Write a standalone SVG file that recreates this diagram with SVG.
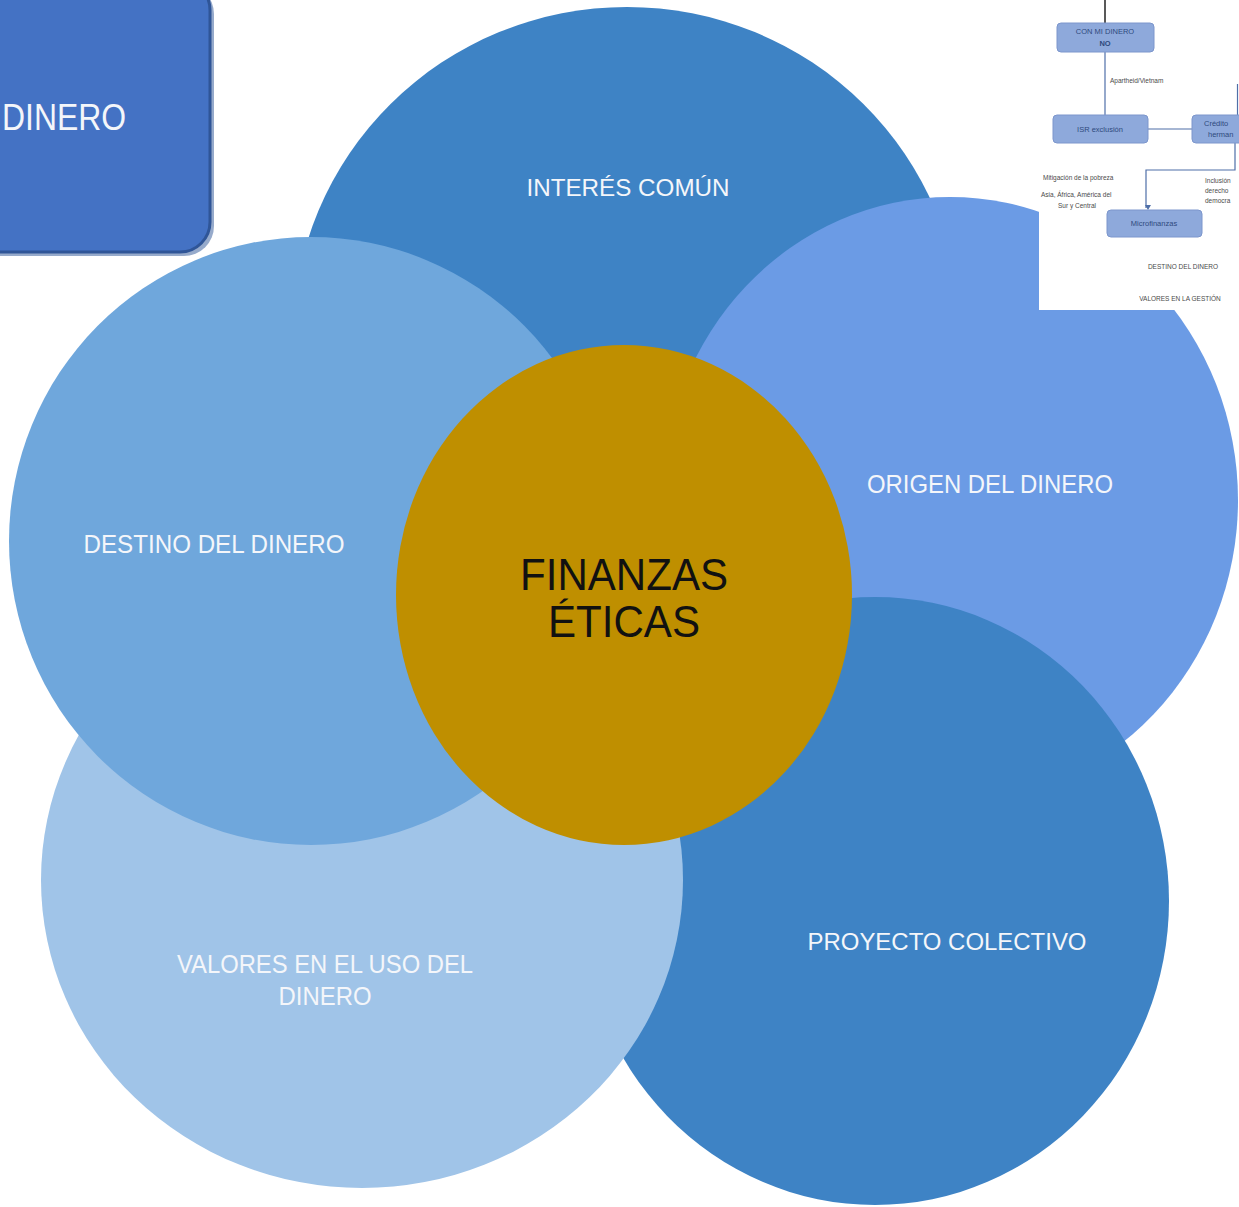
<svg xmlns="http://www.w3.org/2000/svg" width="1239" height="1207" viewBox="0 0 1239 1207">
  <style>
    .lbl { font-family: "Liberation Sans", Arial, sans-serif; fill: #F4F6FA; text-anchor: middle; }
    .big { font-family: "Liberation Sans", Arial, sans-serif; fill: #111111; text-anchor: middle; }
    .ins { font-family: "Liberation Sans", Arial, sans-serif; font-size: 6.5px; fill: #4A4A4A; }
    .insb { font-family: "Liberation Sans", Arial, sans-serif; font-size: 7.5px; fill: #2E4A7D; text-anchor: middle; }
    .box { fill: #8EA9DB; stroke: #7C96CC; stroke-width: 1; }
    .ln { fill: none; stroke: #4F6FA8; stroke-width: 1.2; }
  </style>
  <defs>
    <marker id="ah" markerWidth="6" markerHeight="6" refX="3" refY="5" orient="auto" markerUnits="userSpaceOnUse">
      <path d="M0,0 L3,5 L6,0 Z" fill="#4F6FA8" transform="rotate(-90 3 3)"/>
    </marker>
  </defs>
  <rect x="0" y="0" width="1239" height="1207" fill="#FFFFFF"/>

  <g id="box-dinero">
    <rect x="-36" y="-16" width="250" height="272" rx="30" fill="#2E5597" opacity="0.5"/>
    <rect x="-40" y="-20" width="250" height="272" rx="30" fill="#4472C4" stroke="#2F5597" stroke-width="3"/>
    <text x="2" y="130" font-family="Liberation Sans, Arial, sans-serif" font-size="36" fill="#F4F6FA" textLength="124" lengthAdjust="spacingAndGlyphs">DINERO</text>
  </g>

  <g id="interes">
    <ellipse cx="627" cy="337" rx="334" ry="330" fill="#3E83C5"/>
    <text class="lbl" x="628" y="196" font-size="24" textLength="203" lengthAdjust="spacingAndGlyphs">INTERÉS COMÚN</text>
  </g>

  <g id="origen">
    <ellipse cx="950" cy="500" rx="288" ry="303" fill="#6B9BE5"/>
    <text class="lbl" x="990" y="493" font-size="25" textLength="246" lengthAdjust="spacingAndGlyphs">ORIGEN DEL DINERO</text>
  </g>

  <g id="proyecto">
    <ellipse cx="875" cy="901" rx="294" ry="304" fill="#3E83C5"/>
    <text class="lbl" x="947" y="950" font-size="24" textLength="279" lengthAdjust="spacingAndGlyphs">PROYECTO COLECTIVO</text>
  </g>

  <g id="valores">
    <ellipse cx="362" cy="880" rx="321" ry="308" fill="#A0C4E8"/>
    <text class="lbl" x="325" y="973" font-size="25" textLength="296" lengthAdjust="spacingAndGlyphs">VALORES EN EL USO DEL</text>
    <text class="lbl" x="325" y="1005" font-size="25" textLength="93" lengthAdjust="spacingAndGlyphs">DINERO</text>
  </g>

  <g id="destino">
    <ellipse cx="311" cy="541" rx="302" ry="304" fill="#6FA7DC"/>
    <text class="lbl" x="214" y="553" font-size="25" textLength="261" lengthAdjust="spacingAndGlyphs">DESTINO DEL DINERO</text>
  </g>

  <g id="finanzas-eticas">
    <ellipse cx="624" cy="595" rx="228" ry="250" fill="#BF8F00"/>
    <text class="big" x="624" y="590" font-size="45" textLength="208" lengthAdjust="spacingAndGlyphs">FINANZAS</text>
    <text class="big" x="624" y="637" font-size="45" textLength="152" lengthAdjust="spacingAndGlyphs">ÉTICAS</text>
  </g>

  <g id="inset">
    <rect x="1039" y="0" width="200" height="310" fill="#FFFFFF"/>
    <g id="inset-connectors">
      <line x1="1105" y1="0" x2="1105" y2="23" stroke="#222222" stroke-width="1.5"/>
      <line class="ln" x1="1105" y1="52" x2="1105" y2="115"/>
      <line class="ln" x1="1237.5" y1="84" x2="1237.5" y2="115"/>
      <line class="ln" x1="1148" y1="129" x2="1192" y2="129"/>
      <polyline class="ln" points="1235,143 1235,170 1146,170 1146,208" marker-end="url(#ah)"/>
    </g>
    <g id="n-con-mi-dinero">
      <rect class="box" x="1057" y="23" width="97" height="29" rx="4"/>
      <text class="insb" x="1105" y="34">CON MI DINERO</text>
      <text class="insb" x="1105" y="46" font-weight="bold" font-size="9" fill="#1F3864">NO</text>
    </g>
    <text class="ins" x="1110" y="83">Apartheid/Vietnam</text>
    <g id="n-isr">
      <rect class="box" x="1053" y="115" width="95" height="28" rx="4"/>
      <text class="insb" x="1100" y="132">ISR exclusión</text>
    </g>
    <g id="n-creditos">
      <rect class="box" x="1192" y="115" width="52" height="28" rx="4"/>
      <text class="insb" x="1204" y="126" style="text-anchor:start">Crédito</text>
      <text class="insb" x="1208" y="137" style="text-anchor:start">herman</text>
    </g>
    <text class="ins" x="1043" y="180">Mitigación de la pobreza</text>
    <text class="ins" x="1041" y="197">Asia, África, América del</text>
    <text class="ins" x="1077" y="208" style="text-anchor:middle">Sur y Central</text>
    <text class="ins" x="1205" y="183">Inclusión</text>
    <text class="ins" x="1205" y="193">derecho</text>
    <text class="ins" x="1205" y="203">democra</text>
    <g id="n-microfinanzas">
      <rect class="box" x="1107" y="210" width="95" height="27" rx="4"/>
      <text class="insb" x="1154" y="226">Microfinanzas</text>
    </g>
    <text class="ins" x="1183" y="269" style="text-anchor:middle">DESTINO DEL DINERO</text>
    <text class="ins" x="1180" y="301" style="text-anchor:middle">VALORES EN LA GESTIÓN</text>
  </g>
</svg>
